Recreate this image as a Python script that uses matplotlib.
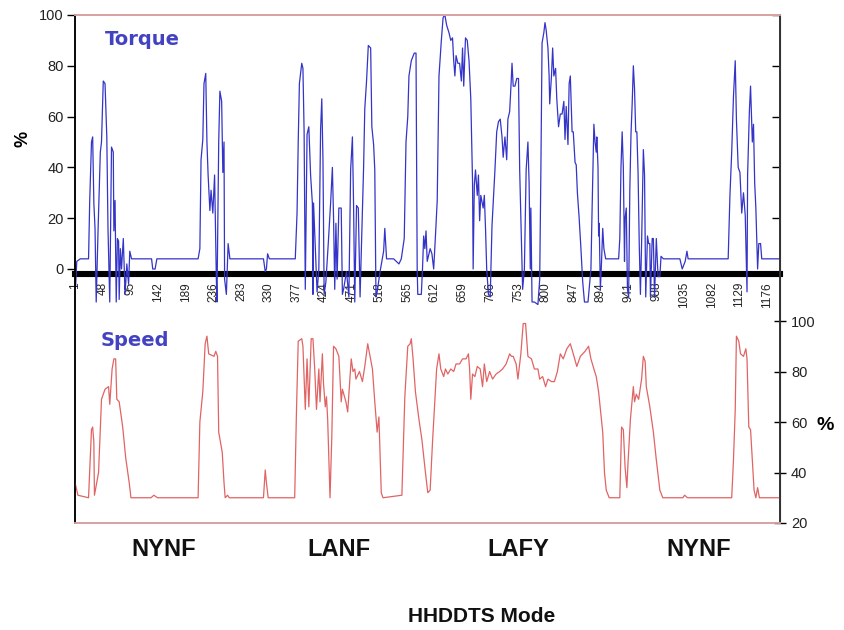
import matplotlib
matplotlib.use("Agg")
import matplotlib.pyplot as plt

plt.rcParams['font.family'] = ['Liberation Sans', 'DejaVu Sans']

# torque trace (time s, % torque)
torque_t = [0, 1, 2, 4, 10, 24, 26, 29, 31, 33, 35, 37, 40, 44, 46, 49, 52, 55, 57, 60,
            63, 66, 67, 69, 71, 73, 75, 76, 78, 80, 83, 86, 89, 92, 94, 97, 131, 133, 137,
            140, 210, 213, 215, 218, 220, 223, 225, 227, 230, 232, 235, 238, 241, 242, 245,
            247, 250, 252, 254, 255, 258, 261, 264, 321, 324, 326, 328, 331, 375, 378, 380,
            382, 386, 388, 390, 392, 395, 398, 401, 404, 405, 406, 409, 412, 415, 418, 420,
            422, 424, 427, 431, 435, 438, 440, 442, 444, 446, 449, 453, 455, 457, 462, 466,
            469, 472, 474, 476, 479, 482, 485, 491, 493, 496, 499, 503, 505, 508, 510, 512,
            514, 519, 525, 527, 530, 542, 551, 555, 560, 563, 566, 568, 572, 577, 580, 582,
            583, 589, 591, 593, 595, 597, 599, 602, 604, 607, 610, 613, 616, 619, 623, 626,
            629, 632, 636, 639, 642, 644, 646, 648, 651, 654, 657, 659, 661, 664, 667, 670,
            673, 676, 677, 679, 681, 684, 686, 688, 690, 694, 696, 698, 700, 703, 706, 709,
            711, 714, 717, 720, 723, 726, 728, 731, 734, 736, 739, 741, 743, 745, 748, 751,
            754, 756, 759, 761, 764, 767, 770, 772, 774, 775, 777, 781, 787, 790, 792, 794,
            797, 799, 801, 804, 806, 807, 810, 812, 814, 817, 819, 822, 825, 828, 831, 833,
            835, 838, 840, 842, 845, 847, 850, 852, 854, 857, 860, 863, 866, 872, 877, 879,
            881, 882, 884, 886, 887, 889, 890, 891, 893, 895, 897, 899, 902, 905, 924, 926,
            928, 930, 932, 934, 935, 937, 939, 941, 943, 945, 947, 949, 951, 953, 955, 957,
            959, 961, 963, 966, 968, 970, 973, 975, 977, 978, 981, 983, 985, 988, 991, 994,
            996, 1000, 1028, 1032, 1037, 1040, 1042, 1059, 1064, 1110, 1113, 1116, 1119,
            1122, 1124, 1127, 1130, 1133, 1136, 1139, 1142, 1143, 1146, 1148, 1151, 1153,
            1155, 1157, 1160, 1162, 1165, 1167, 1198]
torque_v = [26, 0, -7, 3, 4, 4, 27, 50, 52, 26, 16, -13, 14, 46, 50, 74, 73, 52, 16, -13,
            48, 46, 15, 27, -13, 12, 11, -12, 8, 0, 12, -10, 2, -6, 7, 4, 4, 0, 0,
            4, 4, 8, 43, 51, 73, 77, 50, 37, 23, 31, 22, 37, -4, -13, 50,
            70, 66, 38, 50, -4, -10, 10, 4, 4, -1, 0, 6, 4, 4, 22, 50,
            73, 81, 79, 54, -8, 53, 56, 37, 26, -10, 26, 8, -9, 0, 55, 67,
            43, -10, -5, 10, 26, 40, 20, -8, 18, -4, 24, 24, -10, -8, -1, -11,
            39, 52, 25, -13, 25, 24, -11, 40, 63, 74, 88, 87, 56, 49, 39, -11,
            -9, -1, 7, 16, 4, 4, 2, 4, 12, 50, 60, 76, 82, 85, 85, 0,
            -10, -10, 0, 13, 8, 15, 3, 6, 8, 6, 0, 13, 27, 76, 90, 99,
            100, 96, 93, 90, 91, 82, 76, 84, 81, 81, 74, 87, 72, 91, 90, 82,
            67, 34, 0, 33, 39, 29, 37, 19, 29, 24, 29, 16, 0, -10, -11, 17,
            26, 39, 54, 58, 59, 52, 44, 52, 43, 59, 62, 71, 81, 72, 72, 75,
            75, 39, 10, -8, 0, 39, 50, 34, 0, 24, -13, -13, -14, -4, 39, 89,
            93, 97, 94, 87, 76, 65, 76, 87, 76, 79, 67, 56, 61, 61, 66, 51,
            64, 49, 73, 76, 54, 54, 42, 41, 30, 20, 8, -5, -13, -13, 0, 24,
            45, 57, 50, 46, 52, 40, 13, 18, -8, 3, 16, 8, 4, 4, 4, 12,
            40, 54, 40, 3, 20, 24, -8, -11, 31, 53, 65, 80, 71, 54, 54, 38,
            10, -10, 10, 47, 37, -11, 13, 10, 10, -11, 12, 12, -11, 12, -3, -3,
            5, 4, 4, 0, 3, 7, 4, 4, 4, 4, 29, 46, 68,
            82, 59, 40, 38, 22, 30, 21, -9, 37, 62, 72, 50, 57,
            34, 24, 0, 10, 10, 4, 4]

# speed trace (time s, % speed)
speed_t = [0, 6, 24, 26, 29, 31, 33, 34, 41, 46, 52, 58, 60, 64, 67, 70, 72, 76, 82, 87,
           93, 96, 130, 135, 141, 210, 213, 218, 222, 225, 228, 237, 240, 243, 245, 251,
           254, 256, 260, 263, 321, 324, 326, 329, 374, 377, 380, 386, 388, 392, 395, 398,
           402, 405, 408, 411, 415, 417, 421, 423, 426, 428, 430, 434, 437, 440, 444, 449,
           453, 455, 461, 464, 470, 473, 476, 478, 484, 489, 493, 498, 502, 506, 510, 514,
           517, 521, 524, 556, 561, 566, 570, 572, 575, 579, 585, 590, 596, 600, 604, 608,
           612, 615, 619, 622, 627, 630, 634, 639, 644, 648, 654, 659, 665, 669, 671, 673,
           676, 680, 684, 689, 693, 696, 700, 705, 710, 716, 722, 727, 733, 739, 742, 745,
           750, 753, 758, 762, 766, 770, 776, 781, 787, 790, 795, 800, 804, 810, 815, 820,
           825, 830, 836, 842, 847, 853, 859, 867, 873, 877, 882, 886, 890, 897, 900, 903,
           908, 926, 929, 932, 935, 938, 940, 944, 949, 951, 954, 958, 963, 966, 969, 971,
           977, 983, 988, 994, 999, 1033, 1036, 1041, 1116, 1119, 1122, 1124, 1128, 1131,
           1136, 1140, 1142, 1145, 1148, 1151, 1154, 1157, 1160, 1163, 1198]
speed_v = [37, 31, 30, 41, 57, 58, 52, 31, 40, 69, 73, 74, 67, 81, 85, 85, 69, 68, 58, 46,
           36, 30, 30, 31, 30, 30, 60, 72, 91, 94, 87, 86, 88, 86, 56, 48,
           36, 30, 31, 30, 30, 41, 36, 30, 30, 64, 92, 93, 90, 65, 85, 66,
           93, 93, 81, 65, 81, 68, 87, 75, 66, 70, 61, 30, 54, 90, 89, 86,
           68, 73, 68, 64, 85, 80, 81, 77, 80, 76, 82, 91, 86, 81, 68, 56,
           62, 32, 30, 31, 70, 90, 91, 93, 85, 72, 61, 53, 40, 32, 33, 52,
           69, 81, 87, 81, 78, 81, 79, 81, 80, 83, 83, 85, 85, 87, 81, 69,
           79, 78, 82, 81, 74, 83, 76, 80, 77, 79, 80, 81, 83, 87, 86, 86,
           83, 77, 87, 99, 99, 86, 85, 81, 81, 77, 78, 74, 77, 76, 76, 80,
           87, 85, 89, 91, 87, 82, 86, 88, 90, 85, 81, 78, 72, 56, 40, 33,
           30, 30, 58, 57, 42, 34, 44, 61, 74, 68, 71, 69, 77, 86, 84, 74,
           66, 56, 45, 33, 30, 30, 31, 30, 30, 45, 65, 94, 92, 87,
           86, 89, 85, 58, 57, 45, 33, 30, 34, 30, 30]

tick_vals = [1, 48, 95, 142, 189, 236, 283, 330, 377, 424, 471, 518, 565, 612, 659, 706,
             753, 800, 847, 894, 941, 988, 1035, 1082, 1129, 1176]
torque_ticks = [0, 20, 40, 60, 80, 100]
speed_ticks = [20, 40, 60, 80, 100]
modes = ["NYNF", "LANF", "LAFY", "NYNF"]
mode_x = [164, 339, 518, 699]

pink = '#d9a3a3'
label_blue = '#4343c2'

fig = plt.figure(figsize=(8.44, 6.3), dpi=100)
ax = fig.add_axes([75 / 844, 107 / 630, 705 / 844, 508 / 630])
ax.plot(torque_t, torque_v, color='#3434c8', lw=0.9)
ax.set_xlim(1, 1198)
ax.set_ylim(-100, 100)
ax.set_yticks(torque_ticks)
ax.set_xticks([])
ax.tick_params(axis='y', direction='out', length=6, width=1, labelsize=10.5,
               labelcolor='#222222', pad=2)

ax2 = ax.twinx()
ax2.plot(speed_t, speed_v, color='#e06464', lw=0.9)
ax2.set_ylim(20, 221.2)
ax2.set_yticks(speed_ticks)
ax2.tick_params(axis='y', direction='inout', length=8, width=1, labelsize=10.5,
                labelcolor='#222222', pad=4)

for a in (ax, ax2):
    a.spines['top'].set_color(pink)
    a.spines['bottom'].set_color(pink)
    a.spines['top'].set_linewidth(1.3)
    a.spines['bottom'].set_linewidth(1.3)
    a.spines['left'].set_linewidth(1.1)
    a.spines['right'].set_linewidth(1.2)
    a.spines['right'].set_color('#333333')

# torque ticks repeated inside the right axis
sec_y = ax.secondary_yaxis('right')
sec_y.set_yticks(torque_ticks[1:])
sec_y.tick_params(direction='in', length=6, width=1, labelright=False)
sec_y.spines['right'].set_color('#333333')

# category axis: thick zero line with rotated time labels
sec_x = ax.secondary_xaxis(0.491)
sec_x.set_alignment('bottom')
sec_x.set_xticks(tick_vals)
sec_x.set_xticklabels([str(v) for v in tick_vals], rotation=90, fontsize=8.5,
                      color='#222222')
sec_x.tick_params(length=0, pad=6)
sec_x.spines['bottom'].set_linewidth(4.4)
sec_x.spines['bottom'].set_color('black')

ax.text(0.043, 0.951, "Torque", transform=ax.transAxes, family='DejaVu Sans',
        fontweight='bold', fontsize=14, color=label_blue, va='center')
ax.text(0.036, 0.36, "Speed", transform=ax.transAxes, family='DejaVu Sans',
        fontweight='bold', fontsize=14, color=label_blue, va='center')

fig.text(23 / 844, 1 - 139 / 630, "%", rotation=90, fontsize=13, fontweight='bold',
         ha='center', va='center')
fig.text(825 / 844, 1 - 425 / 630, "%", fontsize=14, fontweight='bold',
         ha='center', va='center')

for name, xp in zip(modes, mode_x):
    fig.text(xp / 844, 1 - 549 / 630, name, fontsize=17, fontweight='bold',
             ha='center', va='center', color='#111111')
fig.text(482 / 844, 1 - 617 / 630, "HHDDTS Mode", fontsize=15, fontweight='bold',
         ha='center', va='center', color='#111111')

fig.savefig("out.png", dpi=100)
